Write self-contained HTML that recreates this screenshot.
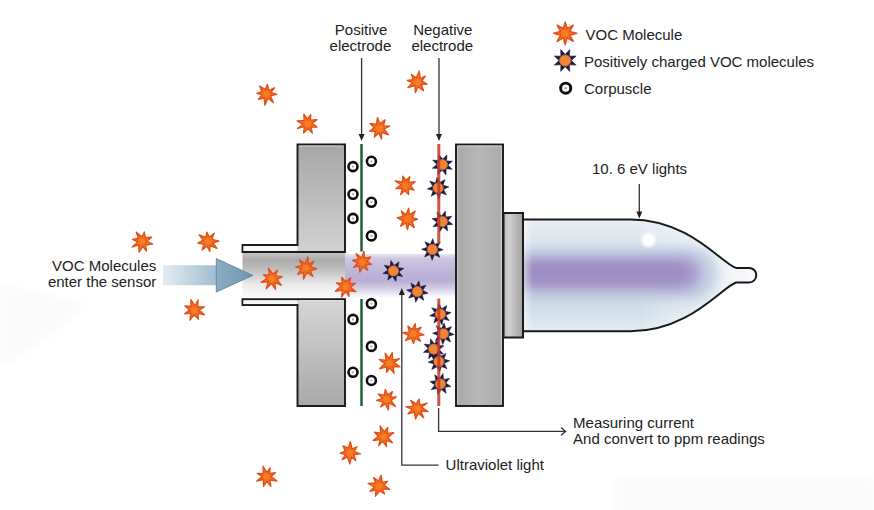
<!DOCTYPE html>
<html><head><meta charset="utf-8"><style>
html,body{margin:0;padding:0;background:#fff;}
svg{display:block;}
text{font-family:"Liberation Sans",sans-serif;font-size:15px;fill:#222;}
</style></head><body>
<svg width="874" height="510" viewBox="0 0 874 510">
<defs>
<path id="vocp" d="M0.00,-10.60 L1.76,-4.25 L7.50,-7.50 L4.25,-1.76 L10.60,0.00 L4.25,1.76 L7.50,7.50 L1.76,4.25 L0.00,10.60 L-1.76,4.25 L-7.50,7.50 L-4.25,1.76 L-10.60,0.00 L-4.25,-1.76 L-7.50,-7.50 L-1.76,-4.25Z"/>
<g id="voc"><use href="#vocp" fill="#f26e1c" stroke="#e0501a" stroke-width="1.3" stroke-linejoin="round"/><circle r="3" fill="#f47f28"/></g>
<g id="chg"><path d="M4.13,-9.98 L3.96,-3.96 L9.98,-4.13 L5.60,0.00 L9.98,4.13 L3.96,3.96 L4.13,9.98 L0.00,5.60 L-4.13,9.98 L-3.96,3.96 L-9.98,4.13 L-5.60,0.00 L-9.98,-4.13 L-3.96,-3.96 L-4.13,-9.98 L-0.00,-5.60Z" fill="#1a1c42" stroke="#1a1c42" stroke-width="0.5" stroke-linejoin="round"/><circle r="5.1" fill="#ef8538" stroke="#d9622a" stroke-width="0.8"/></g>
<g id="corp"><circle r="4.5" fill="#fff" stroke="#0d0d0d" stroke-width="2.6"/><circle r="1.1" fill="#a8a8a8"/></g>
<linearGradient id="arrowShaft" x1="0" x2="1" y1="0" y2="0">
 <stop offset="0" stop-color="#e4ecf2"/><stop offset="0.5" stop-color="#c2d4e0"/><stop offset="1" stop-color="#9fbccf"/>
</linearGradient>
<linearGradient id="arrowHead" x1="0" x2="1" y1="0" y2="0">
 <stop offset="0" stop-color="#8cadc3"/><stop offset="1" stop-color="#6e96b0"/>
</linearGradient>
<linearGradient id="blockL" x1="0" x2="0" y1="0" y2="1">
 <stop offset="0" stop-color="#a6a6a6"/><stop offset="1" stop-color="#d2d2d2"/>
</linearGradient>
<linearGradient id="blockL2" x1="0" x2="0" y1="0" y2="1">
 <stop offset="0" stop-color="#d6d6d6"/><stop offset="1" stop-color="#a8a8a8"/>
</linearGradient>
<linearGradient id="chan" x1="0" x2="0" y1="0" y2="1">
 <stop offset="0" stop-color="#c4c4c4"/><stop offset="0.15" stop-color="#ababab"/><stop offset="0.35" stop-color="#bdbdbd"/><stop offset="0.7" stop-color="#ebebeb"/><stop offset="1" stop-color="#fbfbfb"/>
</linearGradient>
<linearGradient id="blockR" x1="0" x2="1" y1="0" y2="0">
 <stop offset="0" stop-color="#a9a9a9"/><stop offset="0.5" stop-color="#b8b8b8"/><stop offset="1" stop-color="#aaaaaa"/>
</linearGradient>
<linearGradient id="conn" x1="0" x2="1" y1="0" y2="0">
 <stop offset="0" stop-color="#b8b8b8"/><stop offset="0.3" stop-color="#d0d0d0"/><stop offset="0.75" stop-color="#b0b0b0"/><stop offset="1" stop-color="#a3a3a3"/>
</linearGradient>
<linearGradient id="lamp" x1="0" x2="0" y1="0" y2="1">
 <stop offset="0" stop-color="#eef3f7"/>
 <stop offset="0.2" stop-color="#dde7ef"/>
 <stop offset="0.31" stop-color="#c9d2e4"/>
 <stop offset="0.46" stop-color="#9f8fc4"/>
 <stop offset="0.58" stop-color="#a393c7"/>
 <stop offset="0.7" stop-color="#cfd8e8"/>
 <stop offset="0.88" stop-color="#dbe7ef"/>
 <stop offset="1" stop-color="#f2f6f9"/>
</linearGradient>
<linearGradient id="lampfade" x1="0" x2="1" y1="0" y2="0">
 <stop offset="0" stop-color="#fff" stop-opacity="0"/>
 <stop offset="0.55" stop-color="#fff" stop-opacity="0"/>
 <stop offset="0.78" stop-color="#e8eff5" stop-opacity="0.9"/>
 <stop offset="1" stop-color="#f4f7fa" stop-opacity="1"/>
</linearGradient>
<linearGradient id="beam" x1="0" x2="0" y1="0" y2="1">
 <stop offset="0" stop-color="#e7e3f0"/>
 <stop offset="0.12" stop-color="#cdc5e0"/>
 <stop offset="0.4" stop-color="#bfb5d9"/>
 <stop offset="0.62" stop-color="#b9aed5"/>
 <stop offset="0.82" stop-color="#d7d1e7"/>
 <stop offset="1" stop-color="#fcfcfe"/>
</linearGradient>
<radialGradient id="hl"><stop offset="0" stop-color="#fff"/><stop offset="0.6" stop-color="#fff" stop-opacity="0.9"/><stop offset="1" stop-color="#fff" stop-opacity="0"/></radialGradient>
<linearGradient id="lampbg" x1="0" x2="0" y1="0" y2="1">
 <stop offset="0" stop-color="#eaf0f5"/>
 <stop offset="0.2" stop-color="#dee8ef"/>
 <stop offset="0.5" stop-color="#d3e0ea"/>
 <stop offset="0.8" stop-color="#d0dfe9"/>
 <stop offset="1" stop-color="#e6eef4"/>
</linearGradient>
<linearGradient id="lampright" x1="0" x2="1" y1="0" y2="0">
 <stop offset="0" stop-color="#fff" stop-opacity="0"/>
 <stop offset="0.6" stop-color="#f6f9fb" stop-opacity="0.7"/>
 <stop offset="1" stop-color="#fbfcfd" stop-opacity="1"/>
</linearGradient>
<linearGradient id="lampleft" x1="0" x2="1" y1="0" y2="0">
 <stop offset="0" stop-color="#fff" stop-opacity="0.5"/>
 <stop offset="1" stop-color="#fff" stop-opacity="0"/>
</linearGradient>
<filter id="blur6" x="-30%" y="-50%" width="160%" height="200%"><feGaussianBlur stdDeviation="6"/></filter>
<filter id="blur4" x="-30%" y="-50%" width="160%" height="200%"><feGaussianBlur stdDeviation="4"/></filter>
<filter id="blur1" x="-50%" y="-50%" width="200%" height="200%"><feGaussianBlur stdDeviation="1.5"/></filter>
</defs>

<!-- faint background patches -->
<path d="M0,286 L40,292 L88,306 L45,338 L0,368 Z" fill="#fafafa" filter="url(#blur4)"/>
<rect x="615" y="478" width="259" height="40" fill="#fafafa" filter="url(#blur4)"/>
<!-- beam between blocks -->
<rect x="345" y="254" width="112" height="43" fill="url(#beam)"/>

<!-- left upper block -->
<path d="M297.5,144.5 H345 V252 H242.5 V245 H297.5 Z" fill="url(#blockL)" stroke="#1a1a1a" stroke-width="1.9"/>
<path d="M299,146 H343.5" stroke="#d0d0d0" stroke-width="1" fill="none"/>
<rect x="243.5" y="246" width="54" height="5" fill="#f6f6f6"/>
<!-- channel -->
<rect x="242.5" y="253" width="102.5" height="45.2" fill="url(#chan)"/>
<!-- left lower block -->
<path d="M242.5,299.3 H345 V406 H297.5 V305 H242.5 Z" fill="url(#blockL2)" stroke="#1a1a1a" stroke-width="1.9"/>
<rect x="243.5" y="300.3" width="54" height="3.8" fill="#f6f6f6"/>
<path d="M299,300.5 H343.5" stroke="#dedede" stroke-width="1" fill="none"/>

<!-- input arrow -->
<rect x="163" y="265.2" width="54" height="20" fill="url(#arrowShaft)"/>
<path d="M216.3,258.6 L252.8,275.4 L216.3,292 Z" fill="url(#arrowHead)" stroke="#5f87a2" stroke-width="0.9" stroke-linejoin="round"/>

<!-- right block -->
<rect x="456" y="144.5" width="47" height="261.5" fill="url(#blockR)" stroke="#1a1a1a" stroke-width="1.9"/>
<path d="M457.5,146 H501.5 M457.7,146 V404.5 M501.3,146 V404.5" stroke="#cdcdcd" stroke-width="1" fill="none"/>
<!-- connector -->
<rect x="503.5" y="213" width="19.5" height="124.5" fill="url(#conn)" stroke="#1a1a1a" stroke-width="2"/>

<!-- lamp -->
<clipPath id="lampclip"><path d="M523,219.4 H630.5 C689.2,219.4 721.6,263.5 736,267.9 H749 A7.3,7.3 0 0 1 749,282.5 H736 C721.6,287.2 689.2,331.3 630.5,331.3 H523 Z"/></clipPath>
<g clip-path="url(#lampclip)">
<rect x="520" y="215" width="240" height="120" fill="url(#lampbg)"/>
<rect x="640" y="215" width="120" height="120" fill="url(#lampright)"/>
<rect x="500" y="247" width="218" height="54" rx="27" fill="#c3cfe2" filter="url(#blur6)"/>
<rect x="500" y="257" width="200" height="33" rx="16" fill="#a698c9" filter="url(#blur6)"/>
<rect x="500" y="264" width="185" height="18" rx="9" fill="#9e8dc2" filter="url(#blur4)"/>
<rect x="523" y="219" width="10" height="113" fill="url(#lampleft)"/>
</g>
<path d="M523,219.4 H630.5 C689.2,219.4 721.6,263.5 736,267.9 H749 A7.3,7.3 0 0 1 749,282.5 H736 C721.6,287.2 689.2,331.3 630.5,331.3 H523 Z" fill="none" stroke="#1a1a1a" stroke-width="2"/>
<circle cx="648.5" cy="240" r="7" fill="#fff" filter="url(#blur1)"/>

<!-- electrodes -->
<line x1="361.5" y1="144" x2="361.5" y2="251.5" stroke="#1b5a2e" stroke-width="2.4"/>
<line x1="361.5" y1="299" x2="361.5" y2="406" stroke="#1b5a2e" stroke-width="2.4"/>


<!-- label arrows -->
<g stroke="#333" stroke-width="1.3" fill="none">
<line x1="361.6" y1="58" x2="361.6" y2="135"/>
<line x1="439" y1="58" x2="439" y2="135"/>
<line x1="639.3" y1="184" x2="639.3" y2="212"/>
<path d="M438.6,408 V431.4 H565"/>
<path d="M561,427.6 L565.6,431.4 L561,435.2"/>
<path d="M438.5,465.2 H401.8 V294"/>
</g>
<g fill="#222">
<path d="M358.6,134 H364.6 L361.6,141 Z"/>
<path d="M436,134 H442 L439,141 Z"/>
<path d="M636.3,211.5 H642.3 L639.3,218.5 Z"/>
<path d="M398.8,295 H404.8 L401.8,288 Z"/>
</g>

<!-- molecules -->
<g transform="translate(266.5,94)"><path d="M0.89,-9.76 L2.26,-3.76 L8.09,-6.24 L4.47,-1.62 L10.34,0.43 L3.98,1.87 L6.96,8.67 L1.49,4.26 L-1.63,11.23 L-2.35,4.02 L-8.02,5.26 L-4.47,0.94 L-9.72,-0.58 L-4.44,-2.32 L-7.00,-8.00 L-1.13,-4.50Z" fill="#f26e1c" stroke="#e0501a" stroke-width="1.3" stroke-linejoin="round"/><circle r="3" fill="#f47f28"/></g>
<g transform="translate(307.5,123.7)"><path d="M3.37,-9.02 L2.78,-3.54 L9.50,-4.07 L4.81,-0.37 L9.51,3.37 L3.45,3.50 L4.91,9.42 L0.20,5.06 L-3.82,9.31 L-3.25,3.00 L-9.88,4.78 L-4.71,0.49 L-10.42,-2.87 L-3.39,-3.41 L-3.66,-9.43 L-0.05,-4.83Z" fill="#f26e1c" stroke="#e0501a" stroke-width="1.3" stroke-linejoin="round"/><circle r="3" fill="#f47f28"/></g>
<g transform="translate(379.2,128.5)"><path d="M5.78,-8.63 L4.39,-2.65 L10.55,-2.29 L4.89,0.52 L9.43,6.47 L2.37,3.90 L2.46,10.52 L-0.47,4.69 L-4.82,8.45 L-3.87,3.12 L-9.61,2.70 L-4.99,-0.83 L-9.09,-5.00 L-2.84,-4.20 L-1.71,-11.05 L0.67,-4.63Z" fill="#f26e1c" stroke="#e0501a" stroke-width="1.3" stroke-linejoin="round"/><circle r="3" fill="#f47f28"/></g>
<g transform="translate(417.4,82.1)"><path d="M1.87,-11.07 L2.75,-3.50 L7.93,-6.02 L4.59,-1.16 L9.80,2.06 L4.11,2.24 L6.13,8.65 L0.60,4.87 L-2.07,10.50 L-2.52,3.57 L-9.54,5.51 L-4.95,0.67 L-10.13,-1.77 L-4.23,-2.40 L-5.98,-7.55 L-1.11,-4.32Z" fill="#f26e1c" stroke="#e0501a" stroke-width="1.3" stroke-linejoin="round"/><circle r="3" fill="#f47f28"/></g>
<g transform="translate(405.5,185.4)"><path d="M4.27,-8.60 L3.18,-3.12 L9.53,-3.66 L5.06,0.07 L8.55,4.77 L3.09,3.43 L3.07,9.25 L-0.81,5.10 L-4.85,9.25 L-3.19,3.04 L-9.50,3.19 L-4.41,-0.68 L-10.43,-4.48 L-2.81,-3.45 L-2.73,-9.16 L0.52,-5.13Z" fill="#f26e1c" stroke="#e0501a" stroke-width="1.3" stroke-linejoin="round"/><circle r="3" fill="#f47f28"/></g>
<g transform="translate(407.5,219)"><path d="M1.25,-10.78 L1.82,-4.26 L7.74,-7.83 L4.71,-1.64 L9.94,0.22 L4.53,2.47 L6.89,8.67 L1.39,4.75 L-0.05,10.51 L-1.77,3.97 L-6.89,7.31 L-4.56,1.83 L-10.28,-1.37 L-4.47,-2.57 L-6.21,-8.11 L-1.71,-4.18Z" fill="#f26e1c" stroke="#e0501a" stroke-width="1.3" stroke-linejoin="round"/><circle r="3" fill="#f47f28"/></g>
<g transform="translate(142,241.6)"><path d="M2.39,-9.61 L3.32,-3.85 L9.49,-4.34 L4.99,-0.35 L10.52,2.40 L3.61,3.44 L4.49,9.42 L0.76,4.93 L-2.92,10.67 L-3.25,3.34 L-9.92,5.50 L-4.46,0.25 L-9.54,-2.25 L-3.63,-3.45 L-5.81,-9.47 L-0.06,-4.88Z" fill="#f26e1c" stroke="#e0501a" stroke-width="1.3" stroke-linejoin="round"/><circle r="3" fill="#f47f28"/></g>
<g transform="translate(208.1,241.6)"><path d="M6.29,-8.50 L3.63,-2.37 L10.76,-0.43 L4.92,1.39 L8.90,6.79 L1.99,4.04 L1.66,9.94 L-1.08,4.70 L-6.01,8.39 L-4.26,2.79 L-10.28,1.53 L-4.88,-1.43 L-8.99,-6.83 L-2.35,-4.16 L-1.12,-9.47 L1.15,-4.33Z" fill="#f26e1c" stroke="#e0501a" stroke-width="1.3" stroke-linejoin="round"/><circle r="3" fill="#f47f28"/></g>
<g transform="translate(194.5,310.2)"><path d="M3.61,-10.45 L3.24,-3.44 L10.02,-3.40 L4.76,-0.02 L10.03,4.58 L3.53,3.25 L4.01,9.21 L-0.35,4.74 L-4.57,9.98 L-3.63,2.98 L-9.86,3.57 L-4.91,-0.14 L-9.66,-4.21 L-3.54,-3.70 L-3.65,-10.60 L0.47,-4.52Z" fill="#f26e1c" stroke="#e0501a" stroke-width="1.3" stroke-linejoin="round"/><circle r="3" fill="#f47f28"/></g>
<g transform="translate(306,268)"><path d="M1.89,-11.18 L2.54,-3.64 L7.96,-6.63 L4.31,-1.38 L10.77,0.89 L4.20,2.87 L6.92,8.41 L0.92,4.35 L-2.53,11.10 L-2.46,4.50 L-8.34,6.29 L-4.97,0.75 L-10.29,-1.01 L-3.92,-2.42 L-6.38,-7.86 L-0.85,-4.26Z" fill="#f26e1c" stroke="#e0501a" stroke-width="1.3" stroke-linejoin="round"/><circle r="3" fill="#f47f28"/></g>
<g transform="translate(272,279)"><path d="M5.42,-8.83 L3.46,-3.04 L10.24,-2.32 L5.14,0.37 L9.46,6.35 L2.95,3.46 L3.52,10.44 L-0.48,4.41 L-5.68,9.74 L-3.80,2.49 L-10.77,3.40 L-4.85,-0.79 L-8.58,-4.35 L-2.66,-3.85 L-3.55,-10.76 L0.86,-4.93Z" fill="#f26e1c" stroke="#e0501a" stroke-width="1.3" stroke-linejoin="round"/><circle r="3" fill="#f47f28"/></g>
<g transform="translate(362,262.3)"><path d="M1.91,-11.00 L2.69,-4.28 L8.67,-5.30 L5.06,-0.71 L9.55,1.97 L3.63,2.71 L5.62,8.05 L1.01,4.38 L-2.12,9.87 L-2.88,3.55 L-8.44,5.07 L-4.27,0.76 L-9.34,-1.90 L-3.73,-3.00 L-5.85,-8.63 L-0.32,-4.40Z" fill="#f26e1c" stroke="#e0501a" stroke-width="1.3" stroke-linejoin="round"/><circle r="3" fill="#f47f28"/></g>
<g transform="translate(345.6,286.9)"><path d="M5.04,-9.03 L3.76,-3.34 L9.85,-3.60 L5.13,0.48 L10.13,4.60 L3.09,3.76 L3.47,9.57 L0.07,4.43 L-4.05,10.17 L-3.21,3.10 L-10.24,4.38 L-4.85,-0.61 L-9.13,-4.03 L-3.25,-3.41 L-3.96,-9.59 L0.10,-5.14Z" fill="#f26e1c" stroke="#e0501a" stroke-width="1.3" stroke-linejoin="round"/><circle r="3" fill="#f47f28"/></g>
<g transform="translate(413.5,334.1)"><path d="M1.79,-10.42 L2.17,-4.66 L7.59,-6.81 L4.29,-1.78 L10.45,0.87 L4.32,1.97 L7.08,7.09 L1.72,4.33 L-0.07,9.55 L-1.95,4.08 L-8.17,6.65 L-4.71,1.26 L-11.13,-1.40 L-4.12,-2.04 L-5.64,-8.01 L-1.28,-4.70Z" fill="#f26e1c" stroke="#e0501a" stroke-width="1.3" stroke-linejoin="round"/><circle r="3" fill="#f47f28"/></g>
<g transform="translate(389.4,363.2)"><path d="M2.77,-10.78 L3.46,-3.41 L10.15,-4.45 L4.73,-0.59 L10.52,3.63 L3.58,3.52 L4.78,10.17 L0.14,4.91 L-2.68,9.18 L-2.84,3.66 L-9.64,5.56 L-4.85,0.25 L-10.16,-3.75 L-3.25,-2.86 L-4.29,-10.09 L-0.29,-4.77Z" fill="#f26e1c" stroke="#e0501a" stroke-width="1.3" stroke-linejoin="round"/><circle r="3" fill="#f47f28"/></g>
<g transform="translate(386.6,399.3)"><path d="M5.88,-7.63 L3.96,-2.21 L9.75,-2.30 L4.33,1.22 L8.93,7.08 L2.43,3.96 L1.73,10.69 L-1.35,4.65 L-5.87,7.67 L-3.72,2.61 L-10.03,1.15 L-4.20,-1.06 L-8.54,-5.25 L-2.44,-4.26 L-1.27,-9.99 L1.11,-4.58Z" fill="#f26e1c" stroke="#e0501a" stroke-width="1.3" stroke-linejoin="round"/><circle r="3" fill="#f47f28"/></g>
<g transform="translate(417.1,408.6)"><path d="M1.97,-9.53 L2.79,-3.52 L9.98,-5.35 L4.54,-1.25 L10.99,2.99 L3.77,2.54 L6.65,9.19 L1.12,4.68 L-1.54,10.41 L-2.79,3.45 L-9.11,5.21 L-4.89,0.57 L-11.10,-1.82 L-3.59,-2.45 L-6.43,-8.25 L-0.87,-4.50Z" fill="#f26e1c" stroke="#e0501a" stroke-width="1.3" stroke-linejoin="round"/><circle r="3" fill="#f47f28"/></g>
<g transform="translate(383.5,436.7)"><path d="M4.36,-9.19 L3.84,-3.26 L10.24,-3.93 L4.36,0.76 L9.11,5.97 L2.59,3.77 L3.05,9.80 L-0.96,4.73 L-4.79,9.16 L-3.31,2.85 L-10.46,3.80 L-5.10,-0.39 L-8.97,-4.47 L-2.79,-3.52 L-3.37,-10.85 L0.90,-4.93Z" fill="#f26e1c" stroke="#e0501a" stroke-width="1.3" stroke-linejoin="round"/><circle r="3" fill="#f47f28"/></g>
<g transform="translate(349.8,453)"><path d="M0.65,-11.26 L2.31,-4.19 L7.27,-6.27 L4.47,-1.47 L10.72,0.85 L4.04,1.66 L6.10,7.61 L1.64,4.31 L0.00,10.94 L-2.22,3.96 L-7.56,6.68 L-4.38,1.59 L-9.82,0.23 L-4.73,-1.87 L-6.78,-7.26 L-1.46,-4.96Z" fill="#f26e1c" stroke="#e0501a" stroke-width="1.3" stroke-linejoin="round"/><circle r="3" fill="#f47f28"/></g>
<g transform="translate(266.6,476.8)"><path d="M3.58,-9.10 L2.91,-3.30 L8.80,-4.03 L4.54,-0.25 L10.36,4.33 L3.19,3.42 L4.26,9.62 L0.14,4.61 L-3.04,9.57 L-3.35,2.90 L-9.88,4.19 L-4.50,-0.25 L-9.40,-3.37 L-3.41,-3.24 L-3.53,-10.58 L0.24,-4.34Z" fill="#f26e1c" stroke="#e0501a" stroke-width="1.3" stroke-linejoin="round"/><circle r="3" fill="#f47f28"/></g>
<g transform="translate(379.1,485.9)"><path d="M1.95,-10.71 L3.13,-3.54 L8.30,-4.63 L5.05,-0.76 L10.60,3.50 L3.36,3.05 L5.47,8.14 L0.62,4.86 L-3.63,10.29 L-3.13,3.86 L-9.12,5.36 L-4.87,1.05 L-11.03,-2.41 L-3.56,-2.88 L-5.55,-8.31 L-0.53,-4.89Z" fill="#f26e1c" stroke="#e0501a" stroke-width="1.3" stroke-linejoin="round"/><circle r="3" fill="#f47f28"/></g>

<use href="#chg" transform="translate(442.4,164.7) rotate(3)"/>
<use href="#chg" transform="translate(438.1,187.9) rotate(17)"/>
<use href="#chg" transform="translate(442.4,221.5) rotate(38)"/>
<use href="#chg" transform="translate(432.4,249.5) rotate(24)"/>
<use href="#chg" transform="translate(393.4,270.9) rotate(9)"/>
<use href="#chg" transform="translate(417.3,291.6) rotate(31)"/>
<use href="#chg" transform="translate(440.4,314.2) rotate(14)"/>
<use href="#chg" transform="translate(443.4,333.8) rotate(26)"/>
<use href="#chg" transform="translate(433.7,349.1) rotate(5)"/>
<use href="#chg" transform="translate(438.9,361.5) rotate(19)"/>
<use href="#chg" transform="translate(440.4,384) rotate(36)"/>

<use href="#corp" transform="translate(353,166.6)"/>
<use href="#corp" transform="translate(353,194.3)"/>
<use href="#corp" transform="translate(353,218.4)"/>
<use href="#corp" transform="translate(371.4,161.3)"/>
<use href="#corp" transform="translate(371.4,202.3)"/>
<use href="#corp" transform="translate(371.4,235.9)"/>
<use href="#corp" transform="translate(371.4,303.6)"/>
<use href="#corp" transform="translate(353,319.4)"/>
<use href="#corp" transform="translate(371.4,346.4)"/>
<use href="#corp" transform="translate(353,372.3)"/>
<use href="#corp" transform="translate(371.4,380.5)"/>

<line x1="438.8" y1="144" x2="438.8" y2="244" stroke="#c23a2a" stroke-width="3" opacity="0.85"/>
<line x1="438.8" y1="298.5" x2="438.8" y2="406" stroke="#c23a2a" stroke-width="3" opacity="0.85"/>

<!-- legend -->
<use href="#voc" transform="translate(565.2,33.3) rotate(0) scale(1.08)"/>
<use href="#chg" transform="translate(565.2,60.5) rotate(0) scale(1.1)"/>
<use href="#corp" transform="translate(565.7,88.2) scale(1.12)"/>

<!-- texts -->
<text x="334.8" y="34.8">Positive</text>
<text x="329.6" y="50.6">electrode</text>
<text x="413.2" y="34.8">Negative</text>
<text x="411.4" y="50.6">electrode</text>
<text x="585.6" y="40">VOC Molecule</text>
<text x="584" y="66.9">Positively charged VOC molecules</text>
<text x="584" y="93.5">Corpuscle</text>
<text x="592" y="173.6">10. 6 eV lights</text>
<text x="156.3" y="270.6" text-anchor="end">VOC Molecules</text>
<text x="156.3" y="286.7" text-anchor="end">enter the sensor</text>
<text x="573.1" y="428">Measuring current</text>
<text x="573.1" y="443.6">And convert to ppm readings</text>
<text x="445.6" y="469.8">Ultraviolet light</text>
</svg>
</body></html>
